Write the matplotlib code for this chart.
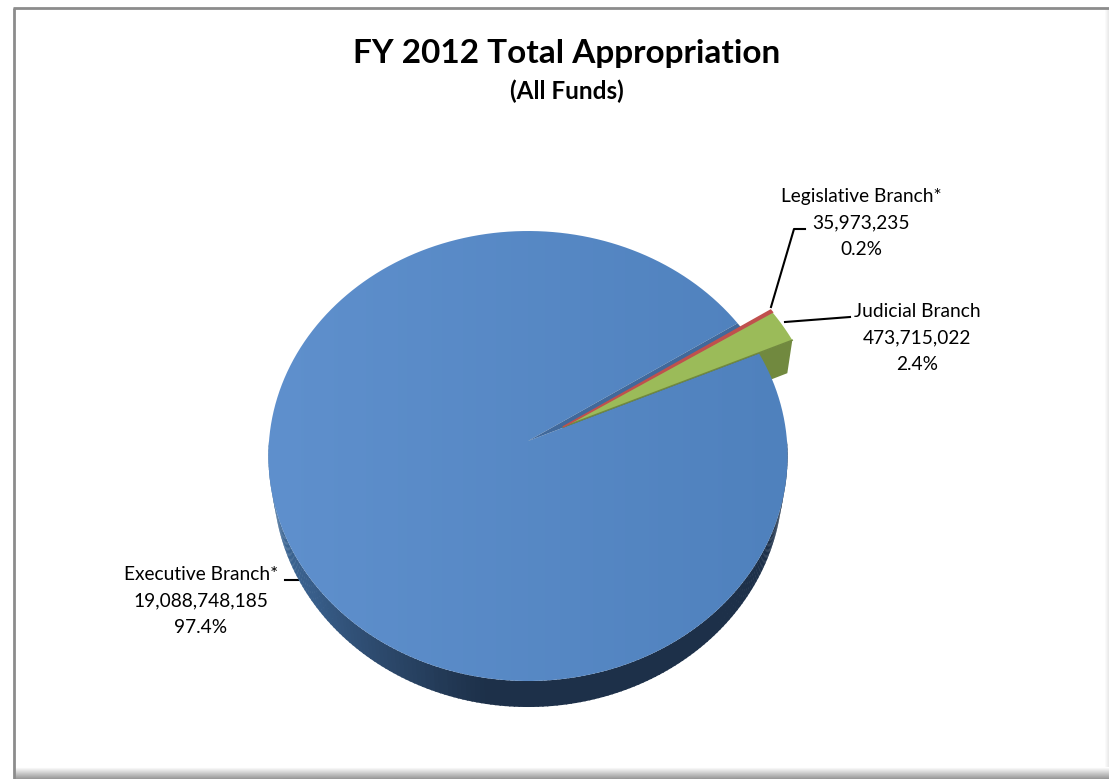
import numpy as np
import matplotlib
matplotlib.use("Agg")
import matplotlib.pyplot as plt
from matplotlib.path import Path
from matplotlib.patches import PathPatch
from matplotlib.colors import LinearSegmentedColormap

title = "FY 2012 Total Appropriation"
subtitle = "(All Funds)"
branches = ["Executive Branch*", "Judicial Branch", "Legislative Branch*"]
amounts = [19088748185, 473715022, 35973235]
amount_labels = ["19,088,748,185", "473,715,022", "35,973,235"]
percent_labels = ["97.4%", "2.4%", "0.2%"]

W, H = 1109, 779
CX, CY = 528, 441
START = 33.0      # where the executive slice begins, degrees
TILT_A, TILT_C, RX = 224.0, 0.0667, 259.0
DEPTH = 26
LOWER_SCALE = 0.981   # bottom disc looks a little narrower than the top
EXPLODE = (0.136, 0.063)

plt.rcParams["font.family"] = ["Lato", "DejaVu Sans"]


def project(x, y):
    # flat pie coordinates to pixels, with a bit of perspective
    d = 1 + TILT_C * y
    return CX + RX * x / d, CY - TILT_A * y / d


def arc(a0, a1, n=200):
    t = np.radians(np.linspace(a0, a1, n))
    return np.cos(t), np.sin(t)


def slice_outline(a0, a1, offset=(0, 0)):
    x, y = arc(a0, a1)
    x = np.r_[0, x] + offset[0]
    y = np.r_[0, y] + offset[1]
    return np.column_stack(project(x, y))


fig = plt.figure(figsize=(W / 100, H / 100), dpi=100)
ax = fig.add_axes([0, 0, 1, 1])
ax.set_xlim(0, W)
ax.set_ylim(H, 0)
ax.axis("off")

# frame and its soft shadow
shadow = LinearSegmentedColormap.from_list("shadow", ["#ffffff", "#9a9a9a"])
ax.imshow(np.linspace(0, 1, 12)[:, None], cmap=shadow, extent=(14, W, H, H - 12),
          aspect="auto", zorder=1)
ax.imshow(np.linspace(0, 0.2, 5)[None, :], cmap=shadow, vmin=0, vmax=1,
          extent=(W - 5, W, H - 12, 9), aspect="auto", zorder=1)
ax.plot([14, 14], [H, 8], color="#8c8c8c", lw=2, zorder=2, solid_capstyle="butt")
ax.plot([13, W], [8, 8], color="#8c8c8c", lw=2, zorder=2, solid_capstyle="butt")

angles = np.array(amounts) / sum(amounts) * 360
exec_end = START + angles[0]
jud_start = exec_end - 360
jud_end = jud_start + angles[1]
leg_end = jud_end + angles[2]

# leader lines
ax.plot([285, 298], [580, 580], color="black", lw=1.5, zorder=2)
ax.plot([771, 794, 805], [307, 229, 229], color="black", lw=1.5, zorder=9)
ax.plot([785, 850], [322, 317], color="black", lw=1.5, zorder=9)

# side wall of the big slice
rim_start, rim_end = 180, 360
t = np.linspace(rim_start, rim_end, 181)
rim_cmap = LinearSegmentedColormap.from_list(
    "rim", [(0, "#41709f"), (0.2, "#385e8a"), (0.33, "#2b4769"),
            (0.45, "#1d3049"), (1, "#1d3049")])
for i in range(len(t) - 1):
    x, y = arc(t[i], t[i + 1] + 0.3, 4)
    px, py = project(x, y)
    low_x = CX + (px - CX) * LOWER_SCALE
    ax.fill(np.r_[px, low_x[::-1]], np.r_[py, py[::-1] + DEPTH],
            color=rim_cmap(i / (len(t) - 2)), lw=0, zorder=3)

# side wall of the judicial slice, the big slice hides most of it
jx, jy = arc(jud_start, jud_start, 1)
corner = np.array(project(jx + EXPLODE[0], jy + EXPLODE[1])).ravel()
inner = np.array(project(np.array([EXPLODE[0]]), np.array([EXPLODE[1]]))).ravel()
ax.fill([corner[0], corner[0] - 5, inner[0], inner[0]],
        [corner[1], corner[1] + 33, inner[1] + 33, inner[1]],
        color="#71893f", lw=0, zorder=4)

# top face of the big slice
face = slice_outline(START, exec_end)
face_path = Path(np.r_[face, face[:1]], closed=True)
patch = PathPatch(face_path, facecolor="none", edgecolor="none", transform=ax.transData)
ax.add_patch(patch)
blue = LinearSegmentedColormap.from_list("blue", ["#5f90cd", "#4f81bd"])
img = ax.imshow(np.linspace(0, 1, 256)[None, :], cmap=blue,
                extent=(268, 788, 690, 225), aspect="auto", zorder=5)
img.set_clip_path(patch)

# inner wall showing in the gap
ax.fill(*slice_outline(jud_start, START).T, color="#41699b", lw=0, zorder=6)

# exploded slices
ax.fill(*slice_outline(jud_start, jud_end, EXPLODE).T, color="#9bbb59", lw=0, zorder=7)
ax.fill(*slice_outline(jud_end, leg_end, EXPLODE).T, color="#c0504d",
        ec="#c0504d", lw=1.2, zorder=8)
edge = slice_outline(jud_start, jud_start, EXPLODE)[[0, -1]]
ax.plot(edge[:, 0], edge[:, 1], color="#71893f", lw=1, zorder=7)

# text
ax.text(567, 53, title, fontsize=24, fontweight="bold", ha="center", va="center",
        color="black", zorder=10)
ax.text(567, 91, subtitle, fontsize=17.5, fontweight="bold", ha="center", va="center",
        color="black", zorder=10)

label_pos = [(201, 574), (917, 311), (861, 196)]
for i, (lx, ly) in enumerate(label_pos):
    for j, line in enumerate([branches[i], amount_labels[i], percent_labels[i]]):
        ax.text(lx, ly + j * 26.7, line, fontsize=13.8, ha="center", va="center",
                color="black", zorder=10)

ax.set_xlim(0, W)
ax.set_ylim(H, 0)
fig.savefig("out.png", dpi=100, facecolor="white")
